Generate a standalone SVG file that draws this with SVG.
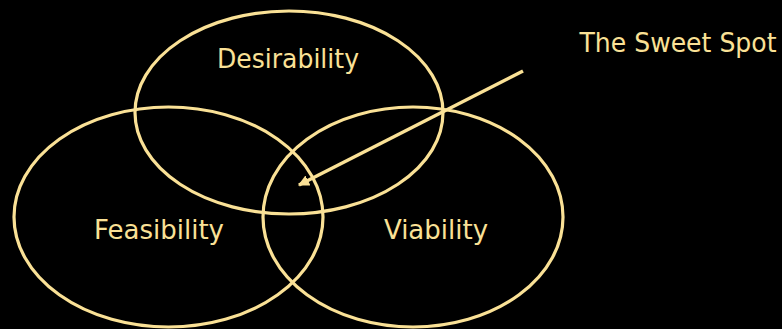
<svg xmlns="http://www.w3.org/2000/svg" width="782" height="329" viewBox="0 0 782 329">
  <style>
    .ring { fill: none; stroke: #FAE196; stroke-width: 3.2; }
    .label { fill: #FAE196; font-family: "DejaVu Sans", Verdana, sans-serif; font-size: 26px; text-anchor: middle; }
    .pointer { stroke: #FAE196; stroke-width: 3.5; fill: none; stroke-linecap: butt; }
  </style>
  <defs>
    <marker id="head" viewBox="0 0 10 10" refX="9" refY="5" markerWidth="3.2" markerHeight="3.2" orient="auto" markerUnits="strokeWidth">
      <path d="M0,0 L10,5 L0,10 Z" fill="#FAE196"/>
    </marker>
  </defs>
  <rect width="782" height="329" fill="#000000"/>

  <g id="desirability">
    <ellipse class="ring" cx="289" cy="112.5" rx="154" ry="101.5"/>
    <text class="label" x="288" y="68" textLength="142" lengthAdjust="spacingAndGlyphs">Desirability</text>
  </g>

  <g id="feasibility">
    <ellipse class="ring" cx="168.5" cy="217" rx="154.5" ry="110"/>
    <text class="label" x="159" y="239">Feasibility</text>
  </g>

  <g id="viability">
    <ellipse class="ring" cx="413" cy="217" rx="150" ry="110"/>
    <text class="label" x="436" y="239">Viability</text>
  </g>

  <g id="sweet-spot">
    <text class="label" x="678" y="52" textLength="197" lengthAdjust="spacingAndGlyphs">The Sweet Spot</text>
  </g>

  <g id="connectors">
    <line class="pointer" x1="523" y1="71" x2="299" y2="185" marker-end="url(#head)"/>
  </g>
</svg>
